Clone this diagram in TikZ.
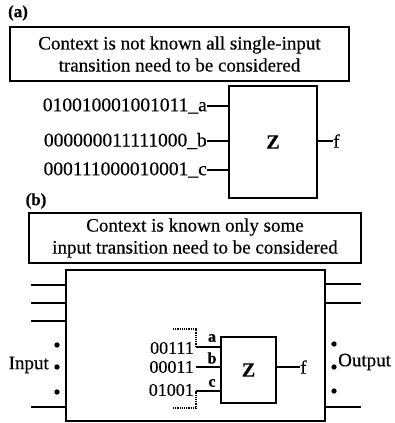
\documentclass[tikz,border=0pt]{standalone}
\usepackage{fontspec}
\setmainfont{Liberation Serif}[FakeBold=0.4]
\begin{document}
\begin{tikzpicture}[x=1pt,y=-1pt,
  every node/.style={font=\fontsize{19}{22}\selectfont, inner sep=0pt},
  boxnode/.style={draw, line width=2pt, align=center},
  wire/.style={line width=2pt},
  dotwire/.style={line width=1.6pt, dash pattern=on 1.2pt off 1pt},
  dotmark/.style={circle, fill, minimum size=5.4pt, inner sep=0pt},
  plabel/.style={font=\fontsize{17}{20}\selectfont\bfseries},
  binlabel/.style={font=\fontsize{19.5}{22}\selectfont},
  smallval/.style={font=\fontsize{18}{20}\selectfont},
  pinlabel/.style={font=\fontsize{16}{18}\selectfont\bfseries}]
\useasboundingbox (0,0) rectangle (394,423);

% ---------- (a) ----------
\node[plabel] (la) at (18,13) {(a)};
\node[boxnode, minimum width=339pt, minimum height=54pt] (ta) at (179.5,54)
  {Context is not known all single-input\\transition need to be considered};
\node[boxnode, minimum width=88pt, minimum height=112pt, font=\fontsize{20}{22}\selectfont\bfseries] (za) at (273,142) {Z};
\node[binlabel, anchor=east] (sa) at (207,106) {010010001001011\_a};
\node[binlabel, anchor=east] (sb) at (207,141) {000000011111000\_b};
\node[binlabel, anchor=east] (sc) at (207,170) {000111000010001\_c};
\draw[wire] (sa.east) -- (sa.east -| za.west);
\draw[wire] (sb.east) -- (sb.east -| za.west);
\draw[wire] (sc.east) -- (sc.east -| za.west);
\node[anchor=west] (fa) at (333,141) {f};
\draw[wire] (fa.west -| za.east) -- (fa.west);

% ---------- (b) ----------
\node[plabel] (lb) at (36,201) {(b)};
\node[boxnode, minimum width=332pt, minimum height=50pt] (tb) at (195,238)
  {Context is known only some\\input transition need to be considered};
\node[boxnode, minimum width=259pt, minimum height=151pt] (big) at (195.5,345.5) {};

% side wires
\coordinate (l1) at (31,285); \coordinate (l2) at (31,303);
\coordinate (l3) at (31,321); \coordinate (l4) at (31,407);
\coordinate (r1) at (361,284); \coordinate (r2) at (361,303);
\coordinate (r4) at (361,407);
\foreach \c in {l1,l2,l3,l4} \draw[wire] (\c) -- (\c -| big.west);
\foreach \c in {r1,r2,r4} \draw[wire] (\c) -- (\c -| big.east);

% dots
\node[dotmark] (ld1) at (57,345) {};
\node[dotmark] (ld2) at (57,367) {};
\node[dotmark] (ld3) at (57,392) {};
\node[dotmark] (rd1) at (334,344) {};
\node[dotmark] (rd2) at (334,367) {};
\node[dotmark] (rd3) at (334,391) {};
\node[anchor=east] (inp) at (49,365) {Input};
\node[anchor=west] (outp) at (338,362) {Output};

% inner Z
\node[boxnode, minimum width=55pt, minimum height=66pt, font=\fontsize{20}{22}\selectfont\bfseries] (zb) at (248.5,370) {Z};
\node[smallval, anchor=east] (va) at (194,348) {00111};
\node[smallval, anchor=east] (vb) at (194,367) {00011};
\node[smallval, anchor=east] (vc) at (194,390) {01001};
\coordinate (wa) at (196,347);
\coordinate (wb) at (196,367);
\coordinate (wc) at (196,391);
\draw[wire] (wa) -- (wa -| zb.west);
\draw[wire] (wb) -- (wb -| zb.west);
\draw[wire] (wc) -- (wc -| zb.west);
\node[pinlabel] (pa) at (212,338) {a};
\node[pinlabel] (pb) at (212,358) {b};
\node[pinlabel] (pc) at (212,383) {c};
\coordinate (bt) at (173,329);
\coordinate (bb) at (173,408);
\draw[dotwire] (bt) -- (bt -| wa) -- (wa);
\draw[dotwire] (bb) -- (bb -| wc) -- (wc);
\node[anchor=west] (fb) at (300,367) {f};
\draw[wire] (fb.west -| zb.east) -- (fb.west);
\end{tikzpicture}
\end{document}
